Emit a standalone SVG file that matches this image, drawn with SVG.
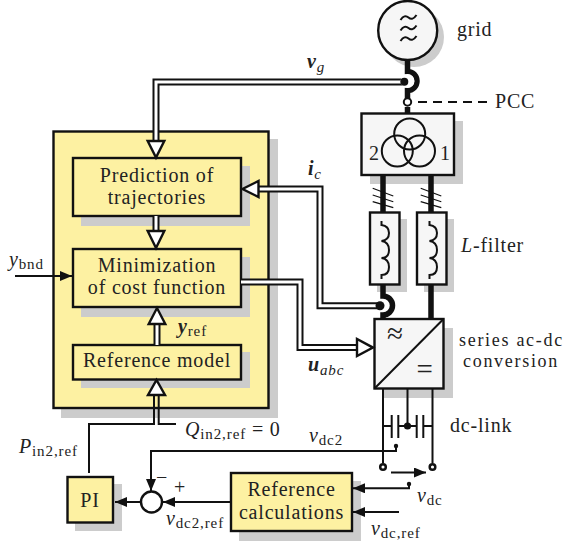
<svg xmlns="http://www.w3.org/2000/svg" width="563" height="541" viewBox="0 0 563 541">
<style>
text{font-family:"Liberation Serif","Times New Roman",serif;font-size:20px;letter-spacing:.8px;fill:#222}
.c{text-anchor:middle}
.i{font-style:italic}
.b{font-style:italic;font-weight:bold}
.s{font-size:15px;letter-spacing:.9px;font-weight:normal}
.sh{fill:#ccc;stroke:none}
.y{fill:#fdf1a2;stroke:#111;stroke-width:2.4}
.w{fill:#f6f6f6;stroke:#111;stroke-width:2.4}
.k{fill:none;stroke:#111;stroke-width:2}
.th{fill:none;stroke:#111;stroke-width:5.5}
.do{fill:none;stroke:#111;stroke-width:7}
.di{fill:none;stroke:#fff;stroke-width:3}
.ah{fill:#fff;stroke:#111;stroke-width:2.400;stroke-linejoin:miter}
.thin{fill:none;stroke:#111;stroke-width:1.2}
.sc{font-size:18px;letter-spacing:1.700px}
</style>
<defs>
<marker id="a" markerUnits="userSpaceOnUse" markerWidth="14" markerHeight="12" refX="12" refY="5" orient="auto"><path d="M0 0L12 5L0 10z" fill="#111"/></marker>
</defs>
<g id="main-box"><rect class="sh" x="61" y="139" width="217" height="279"/><rect class="y" x="53.500" y="131.500" width="215" height="276.500"/></g>
<g id="prediction"><rect class="sh" x="81" y="166" width="169" height="60"/><rect class="y" x="73" y="158" width="168" height="58"/><text class="c" x="157" y="182">Prediction of</text><text class="c" x="157" y="204">trajectories</text></g>
<g id="minimization"><rect class="sh" x="81" y="257" width="169" height="60"/><rect class="y" x="73" y="249" width="168" height="58"/><text class="c" x="157" y="272">Minimization</text><text class="c" x="157" y="294">of cost function</text></g>
<g id="reference-model"><rect class="sh" x="81" y="352" width="169" height="36"/><rect class="y" x="73" y="345" width="168" height="34.500"/><text class="c" x="157" y="367">Reference model</text></g>
<g id="pi"><rect class="sh" x="75" y="484" width="47" height="47"/><rect class="y" x="67.500" y="477" width="45.500" height="45.500"/><text class="c" x="90" y="507">PI</text></g>
<g id="reference-calculations"><rect class="sh" x="239" y="481" width="122" height="60"/><rect class="y" x="231" y="473" width="121" height="58"/><text class="c" x="291.500" y="496">Reference</text><text class="c" x="291.500" y="519">calculations</text></g>
<g id="sum"><circle cx="151.500" cy="502" r="10.500" fill="#fff" stroke="#111" stroke-width="2.400"/><text class="c" x="162" y="484">−</text><text class="c" x="180" y="494">+</text></g>
<g id="grid"><circle class="sh" cx="414" cy="37" r="30"/><circle class="w" cx="407.700" cy="30.500" r="29.500"/>
<path d="M400.500 20q4-6 8-2.500t8-2.500M400.500 30.500q4-6 8-2.500t8-2.500M400.500 41q4-6 8-2.500t8-2.500" fill="none" stroke="#111" stroke-width="2"/><text x="457" y="36">grid</text></g>
<g id="transformer"><rect class="sh" x="370" y="121" width="93" height="63"/><rect class="w" x="361.500" y="113.500" width="92.500" height="61.500"/>
<circle class="k" cx="409.700" cy="134" r="15.500"/><circle class="k" cx="397.300" cy="151" r="15.500"/><circle class="k" cx="419.500" cy="151" r="15.500"/><text x="369" y="160">2</text><text x="440" y="160">1</text></g>
<g id="filter-2"><rect class="sh" x="377" y="219" width="30" height="73"/><rect class="w" x="370" y="212.500" width="29.500" height="72"/><path d="M381.500 221v4q7.500 1 7.500 8t-7.500 8q7.500 1 7.500 9t-7.500 8q7.500 1 7.500 9t-7.500 8v4" fill="none" stroke="#111" stroke-width="2"/></g>
<g id="filter-1"><rect class="sh" x="424" y="219" width="30" height="73"/><rect class="w" x="417" y="212.500" width="29.500" height="72"/><path d="M429.500 221v4q7.500 1 7.500 8t-7.500 8q7.500 1 7.500 9t-7.500 8q7.500 1 7.500 9t-7.500 8v4" fill="none" stroke="#111" stroke-width="2"/><text x="461" y="252"><tspan class="i">L</tspan>-filter</text></g>
<g id="converter"><rect class="sh" x="383" y="328" width="70" height="70"/><rect class="w" x="374.500" y="319" width="69" height="69.500"/><path d="M374.500 388.500L443.500 319" class="k"/><text x="387" y="343" style="font-size:29px;letter-spacing:0">≈</text><text x="416.500" y="379" style="font-size:29px;letter-spacing:0">=</text></g>
<g id="connectors">
<path class="th" d="M407.500 59V71.500a9.500 9.500 0 0 1 0 19V99M407.500 107V113.500"/>
<circle cx="407.500" cy="102" r="3.700" fill="#fff" stroke="#111" stroke-width="2"/>
<path d="M418 102H487" fill="none" stroke="#111" stroke-width="2" stroke-dasharray="9 6"/>
<path class="th" d="M383 175V212M431 175V212M431 284.500V319M383 284.500V296a9.500 9.500 0 0 1 0 19V319"/>
<path class="thin" d="M372.700 188.300L393.300 196M372.700 195L393.300 201.700M372.700 201.700L393.300 207.700M420.700 188.300L441.300 196M420.700 195L441.300 201.700M420.700 201.700L441.300 207.700"/>
<path class="do" d="M404 82H156V146"/><path class="di" d="M407 82H156V146"/>
<circle cx="407.500" cy="81" r="7" fill="#fff"/><circle cx="404.300" cy="81.700" r="4" fill="#111"/>
<path class="ah" d="M147.700 141H164.300L156 157.500z"/>
<path class="do" d="M380 305.700H320V189H256"/><path class="di" d="M380 305.700H320V189H256"/><circle cx="380" cy="305.700" r="4.500" fill="#111"/>
<path class="ah" d="M258.500 181V197L242.500 189z"/>
<path class="do" d="M156 216V234"/><path class="di" d="M156 216V236"/><path class="ah" d="M147.700 231H164.300L156 248z"/>
<path class="do" d="M157 345V322"/><path class="di" d="M157 345V320"/><path class="ah" d="M148.700 324H165.300L157 308z"/>
<path class="do" d="M241 282H300V347.600H360"/><path class="di" d="M241 282H300V347.600H360"/><path class="ah" d="M357 339V356L373 347.600z"/>
<path class="k" d="M89 473V424H154V392M176 424H158.700V392"/><path class="ah" d="M148 395H165L156.500 380z"/>
<path class="k" d="M15 276H72" marker-end="url(#a)"/>
<path class="k" d="M396 446V451H151V491" marker-end="url(#a)"/><circle cx="396" cy="446" r="2.200" fill="#111"/>
<path class="k" d="M231 502H163" marker-end="url(#a)"/>
<path class="k" d="M141 502H115" marker-end="url(#a)"/>
<path class="k" d="M409 484V488.300H353" marker-end="url(#a)"/><circle cx="409" cy="484" r="2.200" fill="#111"/>
<path class="k" d="M399 512H353" marker-end="url(#a)"/>
<path class="k" d="M391 472.500H426" marker-end="url(#a)"/>
<path class="k" d="M383 388.500V463M432.500 388.500V463M407.500 388.500V426M383 426H391.700M398.300 426H416.700M423.300 426H432.500M391.700 415V438M398.300 415V438M416.700 415V438M423.300 415V438"/>
<circle cx="407.500" cy="426" r="3.600" fill="#111"/>
<circle cx="383" cy="467" r="2.800" fill="#fff" stroke="#111" stroke-width="2.500"/><circle cx="432.500" cy="467" r="2.800" fill="#fff" stroke="#111" stroke-width="2.500"/>
</g>
<g id="labels">
<text x="495" y="108">PCC</text>
<text class="sc" x="459" y="346">series ac-dc</text>
<text class="sc" x="463" y="366.500">conversion</text>
<text class="b" x="307" y="68">v<tspan class="s" dy="4">g</tspan></text>
<text class="b" x="308" y="175">i<tspan class="s" dy="4">c</tspan></text>
<text class="b" x="308" y="371">u<tspan class="s" dy="4">abc</tspan></text>
<text x="178" y="333"><tspan class="b">y</tspan><tspan class="s" dy="3">ref</tspan></text>
<text x="9" y="266"><tspan class="i">y</tspan><tspan class="s" dy="3">bnd</tspan></text>
<text x="185" y="436"><tspan class="i">Q</tspan><tspan class="s" dy="3">in2,ref</tspan><tspan dy="-3"> = 0</tspan></text>
<text x="19" y="453"><tspan class="i">P</tspan><tspan class="s" dy="3">in2,ref</tspan></text>
<text x="309" y="442"><tspan class="i">v</tspan><tspan class="s" dy="3">dc2</tspan></text>
<text x="166" y="525"><tspan class="i">v</tspan><tspan class="s" dy="3">dc2,ref</tspan></text>
<text x="417" y="502"><tspan class="i">v</tspan><tspan class="s" dy="3">dc</tspan></text>
<text x="371" y="535"><tspan class="i">v</tspan><tspan class="s" dy="3">dc,ref</tspan></text>
<text x="450" y="432">dc-link</text>
</g>
</svg>
